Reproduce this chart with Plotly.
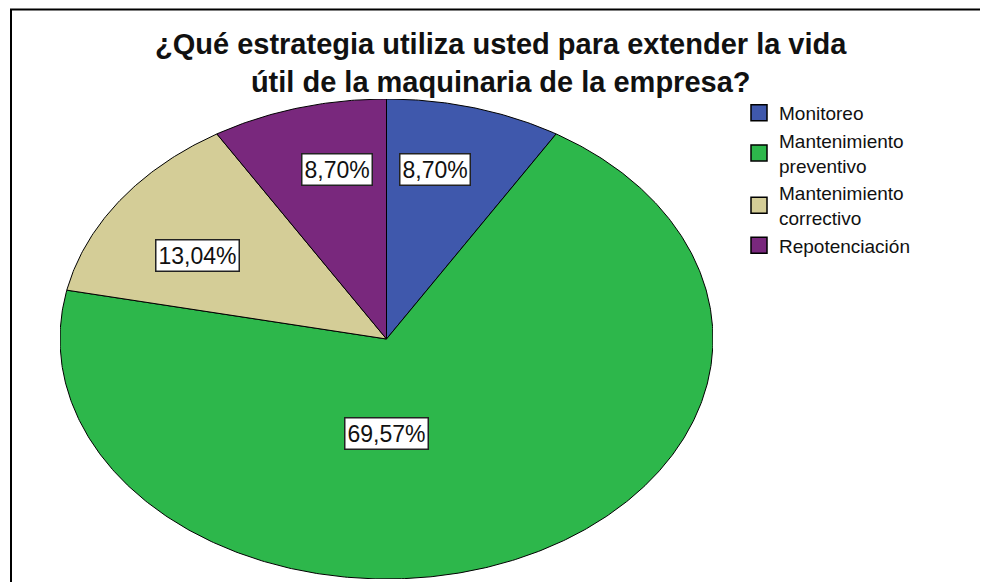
import numpy as np
import plotly.graph_objects as go

# ---- data ----
categories = ["Monitoreo", "Mantenimiento<br>preventivo", "Mantenimiento<br>correctivo", "Repotenciación"]
counts = [2, 16, 3, 2]
colors = ["#3F58AC", "#2DB74B", "#D4CD97", "#79287D"]
title_text = "¿Qué estrategia utiliza usted para extender la vida<br>útil de la maquinaria de la empresa?"
# label anchor positions (style), in unit-circle coordinates
label_pos = [(0.150, 0.708), (0.0, -0.392), (-0.580, 0.35), (-0.153, 0.708)]

# page is shown with an 8px body margin: figure coords = page coords - 8
W, H = 980, 574
OFF = 8


def px(x):
    return (x - OFF) / W


def py(y):
    return 1 - (y - OFF) / H


total = sum(counts)
fig = go.Figure()

cum = 0.0
for name, c, col in zip(categories, counts, colors):
    f0 = cum / total
    f1 = (cum + c) / total
    cum += c
    n = max(int((f1 - f0) * 720), 8)
    t = np.linspace(f0, f1, n) * 2 * np.pi
    xs = np.concatenate([[0], np.sin(t), [0]])
    ys = np.concatenate([[0], np.cos(t), [0]])
    fig.add_trace(go.Scatter(
        x=xs, y=ys, mode="lines", fill="toself", fillcolor=col,
        line=dict(color="black", width=1), name=name, legendgroup=name,
        showlegend=False, hoverinfo="name"))

# legend entries (square swatches)
for name, col in zip(categories, colors):
    fig.add_trace(go.Scatter(
        x=[None], y=[None], mode="markers", name=name, legendgroup=name,
        marker=dict(symbol="square", size=17, color=col, line=dict(color="black", width=1.5))))

# percentage labels
for c, (lx, ly) in zip(counts, label_pos):
    txt = f"{c / total * 100:.2f}".replace(".", ",") + "%"
    fig.add_annotation(x=lx, y=ly, xref="x", yref="y", text=txt, showarrow=False,
                       font=dict(family="Liberation Sans, Arial", size=23, color="#111111"),
                       bgcolor="white", bordercolor="#222222", borderwidth=1.5, borderpad=2)

# title
fig.add_annotation(x=px(501), y=py(63), xref="paper", yref="paper", text=f"<b>{title_text}</b>",
                   showarrow=False, xanchor="center", yanchor="middle", align="center",
                   font=dict(family="Liberation Sans, Arial", size=29, color="#111111"))

# frame
fig.add_shape(type="rect", xref="paper", yref="paper",
              x0=px(11), x1=1.05, y0=-0.05, y1=py(9.5),
              line=dict(color="black", width=2))

fig.update_xaxes(range=[-1, 1], domain=[px(60), px(713)], visible=False, fixedrange=True)
fig.update_yaxes(range=[-1, 1], domain=[py(579), py(99)], visible=False, fixedrange=True)
fig.update_layout(
    width=W, height=H, margin=dict(l=0, r=0, t=0, b=0),
    plot_bgcolor="white", paper_bgcolor="white",
    showlegend=True,
    legend=dict(x=px(739), y=py(94), xanchor="left", yanchor="top",
                font=dict(family="Liberation Sans, Arial", size=19, color="#111111"),
                bgcolor="rgba(0,0,0,0)", tracegroupgap=0, itemwidth=30),
)

fig.write_html("out.html")
